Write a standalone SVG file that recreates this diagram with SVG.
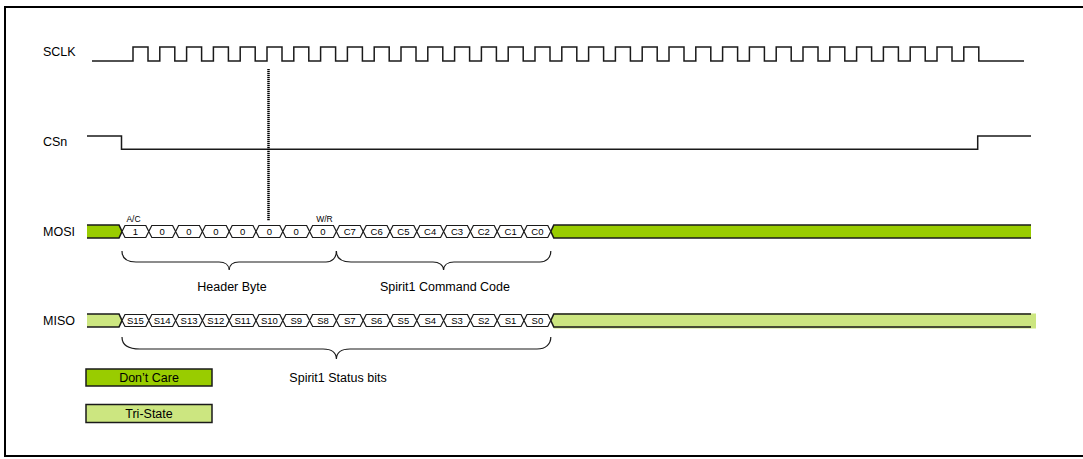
<svg xmlns="http://www.w3.org/2000/svg" width="1083" height="459" viewBox="0 0 1083 459">
<style>
.sig{fill:none;stroke:#1a1a1a;stroke-width:1.5}
.lbl{font-family:"Liberation Sans",Arial,sans-serif;font-size:12.5px;fill:#000}
.cell{fill:#fff;stroke:#1a1a1a;stroke-width:1.2}
.ct{font-family:"Liberation Sans",Arial,sans-serif;font-size:9.5px;fill:#000;text-anchor:middle}
.small{font-family:"Liberation Sans",Arial,sans-serif;font-size:8.5px;fill:#000;text-anchor:middle}
.brace{fill:none;stroke:#1a1a1a;stroke-width:1.2}
.dc{fill:#99CC00}
.ts{fill:#CCE680}
.edge{fill:none;stroke:#1a1a1a;stroke-width:1.6}
</style>
<rect x="5" y="7" width="1095" height="449" fill="#fff" stroke="#000" stroke-width="2"/>

<g id="sclk">
<text class="lbl" x="43" y="56">SCLK</text>
<path class="sig" d="M92,61 H133 V47 H148 V61 H159.8 V47 H174.8 V61 H186.6 V47 H201.6 V61 H213.4 V47 H228.4 V61 H240.2 V47 H255.2 V61 H267 V47 H282 V61 H293.8 V47 H308.8 V61 H320.6 V47 H335.6 V61 H347.4 V47 H362.4 V61 H374.2 V47 H389.2 V61 H401 V47 H416 V61 H427.8 V47 H442.8 V61 H454.6 V47 H469.6 V61 H481.4 V47 H496.4 V61 H508.2 V47 H523.2 V61 H535 V47 H550 V61 H561.8 V47 H576.8 V61 H588.6 V47 H603.6 V61 H615.4 V47 H630.4 V61 H642.2 V47 H657.2 V61 H669 V47 H684 V61 H695.8 V47 H710.8 V61 H722.6 V47 H737.6 V61 H749.4 V47 H764.4 V61 H776.2 V47 H791.2 V61 H803 V47 H818 V61 H829.8 V47 H844.8 V61 H856.6 V47 H871.6 V61 H883.4 V47 H898.4 V61 H910.2 V47 H925.2 V61 H937 V47 H952 V61 H963.8 V47 H978.8 V61 H1024"/>
</g>

<g id="csn">
<text class="lbl" x="43" y="146">CSn</text>
<path class="sig" d="M87,136 H121.5 V149.3 H977.7 V136 H1031"/>
</g>

<g id="mosi">
<text class="lbl" x="43" y="236">MOSI</text>
<polygon class="dc" points="87,225 119,225 122,231.5 119,238 87,238"/>
<polyline class="edge" points="87,225 119,225 122,231.5 119,238 87,238"/>
<polygon class="dc" points="550.8,231.5 553.8,225 1031,225 1031,238 553.8,238"/>
<polyline class="edge" points="1031,225 553.8,225 550.8,231.5 553.8,238 1031,238"/>
<g>
<polygon class="cell" points="122,231.5 125,225.5 145.8,225.5 148.8,231.5 145.8,237.5 125,237.5"/>
<polygon class="cell" points="148.8,231.5 151.8,225.5 172.6,225.5 175.6,231.5 172.6,237.5 151.8,237.5"/>
<polygon class="cell" points="175.6,231.5 178.6,225.5 199.4,225.5 202.4,231.5 199.4,237.5 178.6,237.5"/>
<polygon class="cell" points="202.4,231.5 205.4,225.5 226.2,225.5 229.2,231.5 226.2,237.5 205.4,237.5"/>
<polygon class="cell" points="229.2,231.5 232.2,225.5 253,225.5 256,231.5 253,237.5 232.2,237.5"/>
<polygon class="cell" points="256,231.5 259,225.5 279.8,225.5 282.8,231.5 279.8,237.5 259,237.5"/>
<polygon class="cell" points="282.8,231.5 285.8,225.5 306.6,225.5 309.6,231.5 306.6,237.5 285.8,237.5"/>
<polygon class="cell" points="309.6,231.5 312.6,225.5 333.4,225.5 336.4,231.5 333.4,237.5 312.6,237.5"/>
<polygon class="cell" points="336.4,231.5 339.4,225.5 360.2,225.5 363.2,231.5 360.2,237.5 339.4,237.5"/>
<polygon class="cell" points="363.2,231.5 366.2,225.5 387,225.5 390,231.5 387,237.5 366.2,237.5"/>
<polygon class="cell" points="390,231.5 393,225.5 413.8,225.5 416.8,231.5 413.8,237.5 393,237.5"/>
<polygon class="cell" points="416.8,231.5 419.8,225.5 440.6,225.5 443.6,231.5 440.6,237.5 419.8,237.5"/>
<polygon class="cell" points="443.6,231.5 446.6,225.5 467.4,225.5 470.4,231.5 467.4,237.5 446.6,237.5"/>
<polygon class="cell" points="470.4,231.5 473.4,225.5 494.2,225.5 497.2,231.5 494.2,237.5 473.4,237.5"/>
<polygon class="cell" points="497.2,231.5 500.2,225.5 521,225.5 524,231.5 521,237.5 500.2,237.5"/>
<polygon class="cell" points="524,231.5 527,225.5 547.8,225.5 550.8,231.5 547.8,237.5 527,237.5"/>
</g>
<g>
<text class="ct" x="135.4" y="235">1</text>
<text class="ct" x="162.2" y="235">0</text>
<text class="ct" x="189" y="235">0</text>
<text class="ct" x="215.8" y="235">0</text>
<text class="ct" x="242.6" y="235">0</text>
<text class="ct" x="269.4" y="235">0</text>
<text class="ct" x="296.2" y="235">0</text>
<text class="ct" x="323" y="235">0</text>
<text class="ct" x="349.8" y="235">C7</text>
<text class="ct" x="376.6" y="235">C6</text>
<text class="ct" x="403.4" y="235">C5</text>
<text class="ct" x="430.2" y="235">C4</text>
<text class="ct" x="457" y="235">C3</text>
<text class="ct" x="483.8" y="235">C2</text>
<text class="ct" x="510.6" y="235">C1</text>
<text class="ct" x="537.4" y="235">C0</text>
</g>
<text class="small" x="133.5" y="222">A/C</text>
<text class="small" x="324.5" y="222">W/R</text>
</g>

<g id="miso">
<text class="lbl" x="43" y="325">MISO</text>
<polygon class="ts" points="87,314 119,314 122,320.5 119,327 87,327"/>
<polyline class="edge" points="87,314 119,314 122,320.5 119,327 87,327"/>
<polygon class="ts" points="550.8,320.5 553.8,313.5 1036,313.5 1036,328.5 553.8,328.5"/>
<polyline class="edge" points="1031,314 553.8,314 550.8,320.5 553.8,327 1031,327"/>
<g>
<polygon class="cell" points="122,320.5 125,314.5 145.8,314.5 148.8,320.5 145.8,326.5 125,326.5"/>
<polygon class="cell" points="148.8,320.5 151.8,314.5 172.6,314.5 175.6,320.5 172.6,326.5 151.8,326.5"/>
<polygon class="cell" points="175.6,320.5 178.6,314.5 199.4,314.5 202.4,320.5 199.4,326.5 178.6,326.5"/>
<polygon class="cell" points="202.4,320.5 205.4,314.5 226.2,314.5 229.2,320.5 226.2,326.5 205.4,326.5"/>
<polygon class="cell" points="229.2,320.5 232.2,314.5 253,314.5 256,320.5 253,326.5 232.2,326.5"/>
<polygon class="cell" points="256,320.5 259,314.5 279.8,314.5 282.8,320.5 279.8,326.5 259,326.5"/>
<polygon class="cell" points="282.8,320.5 285.8,314.5 306.6,314.5 309.6,320.5 306.6,326.5 285.8,326.5"/>
<polygon class="cell" points="309.6,320.5 312.6,314.5 333.4,314.5 336.4,320.5 333.4,326.5 312.6,326.5"/>
<polygon class="cell" points="336.4,320.5 339.4,314.5 360.2,314.5 363.2,320.5 360.2,326.5 339.4,326.5"/>
<polygon class="cell" points="363.2,320.5 366.2,314.5 387,314.5 390,320.5 387,326.5 366.2,326.5"/>
<polygon class="cell" points="390,320.5 393,314.5 413.8,314.5 416.8,320.5 413.8,326.5 393,326.5"/>
<polygon class="cell" points="416.8,320.5 419.8,314.5 440.6,314.5 443.6,320.5 440.6,326.5 419.8,326.5"/>
<polygon class="cell" points="443.6,320.5 446.6,314.5 467.4,314.5 470.4,320.5 467.4,326.5 446.6,326.5"/>
<polygon class="cell" points="470.4,320.5 473.4,314.5 494.2,314.5 497.2,320.5 494.2,326.5 473.4,326.5"/>
<polygon class="cell" points="497.2,320.5 500.2,314.5 521,314.5 524,320.5 521,326.5 500.2,326.5"/>
<polygon class="cell" points="524,320.5 527,314.5 547.8,314.5 550.8,320.5 547.8,326.5 527,326.5"/>
</g>
<g>
<text class="ct" x="135.4" y="324">S15</text>
<text class="ct" x="162.2" y="324">S14</text>
<text class="ct" x="189" y="324">S13</text>
<text class="ct" x="215.8" y="324">S12</text>
<text class="ct" x="242.6" y="324">S11</text>
<text class="ct" x="269.4" y="324">S10</text>
<text class="ct" x="296.2" y="324">S9</text>
<text class="ct" x="323" y="324">S8</text>
<text class="ct" x="349.8" y="324">S7</text>
<text class="ct" x="376.6" y="324">S6</text>
<text class="ct" x="403.4" y="324">S5</text>
<text class="ct" x="430.2" y="324">S4</text>
<text class="ct" x="457" y="324">S3</text>
<text class="ct" x="483.8" y="324">S2</text>
<text class="ct" x="510.6" y="324">S1</text>
<text class="ct" x="537.4" y="324">S0</text>
</g>
</g>

<g id="connectors">
<line x1="268.5" y1="69" x2="268.5" y2="221" stroke="#000" stroke-width="2.5" stroke-dasharray="1.2 0.8"/>
<path class="brace" d="M122,251 C122,258 126,262 136,262 H219 C225,262 229,265 229.2,270 C229.4,265 233,262 239,262 H326 C332,262 336.4,258 336.4,251"/>
<path class="brace" d="M336.4,251 C336.4,258 341,262 351,262 H433 C439,262 443.4,265 443.6,270 C443.8,265 448,262 454,262 H540 C546,262 550.8,258 550.8,251"/>
<path class="brace" d="M122,337 C122,344 127,349 140,349 H323 C331,349 336.2,352 336.4,359 C336.6,352 342,349 350,349 H537 C546,349 550.8,344 550.8,337"/>
</g>

<g id="header-label"><text class="lbl" x="232" y="291" text-anchor="middle">Header Byte</text></g>
<g id="command-label"><text class="lbl" x="445" y="291" text-anchor="middle">Spirit1 Command Code</text></g>
<g id="status-label"><text class="lbl" x="338" y="382" text-anchor="middle">Spirit1 Status bits</text></g>

<g id="legend-dontcare">
<rect x="86" y="369" width="126" height="17" fill="#99CC00" stroke="#1a1a1a" stroke-width="1.5"/>
<text class="lbl" x="149" y="382" text-anchor="middle">Don’t Care</text>
</g>
<g id="legend-tristate">
<rect x="86" y="404.5" width="126" height="18" fill="#CCE680" stroke="#1a1a1a" stroke-width="1.5"/>
<text class="lbl" x="149" y="418" text-anchor="middle">Tri-State</text>
</g>
</svg>
